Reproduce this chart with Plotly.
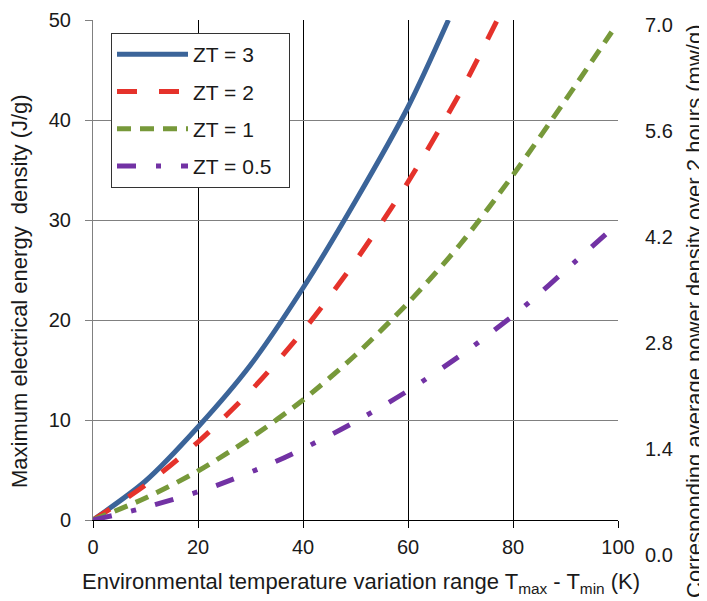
import plotly.graph_objects as go

# ---- data ----
x_zt3 = [0, 10, 20, 30, 40, 50, 60, 67.7]
y_zt3 = [0, 3.9, 9.3, 15.5, 23.2, 31.9, 41.3, 50.0]

x_zt2 = [0, 10, 20, 30, 40, 50, 60, 70, 77]
y_zt2 = [0, 3.5, 7.8, 12.9, 18.9, 25.9, 33.8, 42.8, 50.0]

x_zt1 = [0, 10, 20, 30, 40, 50, 60, 70, 80, 90, 98.8]
y_zt1 = [0, 2.2, 4.9, 8.2, 12.0, 16.5, 21.7, 27.6, 34.5, 42.0, 48.8]

x_zt05 = [0, 8.6, 22, 34.9, 47.3, 59.3, 70.9, 81.8, 92.2, 98.8]
y_zt05 = [0, 1.07, 3.17, 5.87, 9.07, 12.7, 16.8, 21.2, 26.0, 29.1]

series_labels = ["ZT = 3", "ZT = 2", "ZT = 1", "ZT = 0.5"]
x_ticks = [0, 20, 40, 60, 80, 100]
y_ticks = [0, 10, 20, 30, 40, 50]
y2_ticks = [0.0, 1.4, 2.8, 4.2, 5.6, 7.0]

x_title = "Environmental temperature variation range T<sub>max</sub> - T<sub>min</sub> (K)"
y_title = "Maximum electrical energy&nbsp; density (J/g)"
y2_title = "Corresponding average power density over 2 hours (mw/g)"

FONT = "Liberation Sans, Arial, sans-serif"
TXT = "#1a1a1a"

styles = [
    dict(color="#3B6499", width=5, dash="solid"),
    dict(color="#E5322B", width=5, dash="20px,22px"),
    dict(color="#77993A", width=5, dash="14px,9px"),
    dict(color="#7232A4", width=5, dash="19px,20px,5px,20px"),
]

fig = go.Figure()
for i, (xs, ys) in enumerate([(x_zt3, y_zt3), (x_zt2, y_zt2), (x_zt1, y_zt1), (x_zt05, y_zt05)]):
    fig.add_trace(go.Scatter(
        x=xs, y=ys, mode="lines", name=series_labels[i] + "\u00a0\u00a0",
        line=dict(shape="spline", smoothing=0.8, **styles[i]),
        legendgroup=f"g{i}", xaxis="x", yaxis="y",
    ))

# invisible trace to carry the right-hand axis
fig.add_trace(go.Scatter(x=[None], y=[None], xaxis="x2", yaxis="y2",
                         showlegend=False, hoverinfo="skip"))

# page is offset by the 8px body margin
L, R, T, B = 85, 97, 12, 54
W, H = 707, 601
plot_w = W - L - R
plot_h = H - T - B


def px(page_x):
    return (page_x - 8 - L) / plot_w


def py(page_y):
    return (H - B - (page_y - 8)) / plot_h


fig.update_layout(
    width=W, height=H,
    margin=dict(l=L, r=R, t=T, b=B, pad=0),
    template="none",
    paper_bgcolor="white",
    plot_bgcolor="rgba(0,0,0,0)",
    font=dict(family=FONT, size=20, color=TXT),
    xaxis=dict(
        domain=[0, 1], range=[0, 100], anchor="y",
        tickvals=x_ticks, showgrid=True, gridcolor="#000000", gridwidth=1,
        showline=True, linecolor="#000000", linewidth=1,
        ticks="outside", ticklen=7, tickcolor="#000000",
        zeroline=False, automargin=False, ticklabelstandoff=2,
    ),
    yaxis=dict(
        domain=[py(520), 1], range=[0, 50], anchor="x",
        tickvals=y_ticks, showgrid=True, gridcolor="#808080", gridwidth=1,
        showline=True, linecolor="#808080", linewidth=1,
        ticks="outside", ticklen=7, tickcolor="#808080",
        zeroline=False, automargin=False, ticklabelstandoff=10,
    ),
    xaxis2=dict(domain=[0, 1], range=[0, 100], anchor="y2", visible=False),
    yaxis2=dict(
        domain=[0, py(25)], range=[0, 7], anchor="x2", side="right",
        tickvals=y2_ticks, tickformat=".1f", showgrid=False, showline=False,
        ticks="", zeroline=False, automargin=False, ticklabelstandoff=26,
    ),
    legend=dict(
        x=px(111), y=py(33), xanchor="left", yanchor="top",
        bgcolor="white", bordercolor="#333333", borderwidth=1,
        font=dict(size=21, color=TXT), traceorder="grouped", tracegroupgap=7,
        itemwidth=71,
    ),
    showlegend=True,
    annotations=[
        dict(text=x_title, xref="paper", yref="paper", x=px(361), y=py(583),
             xanchor="center", yanchor="middle", showarrow=False,
             font=dict(size=22, color=TXT)),
        dict(text=y_title, xref="paper", yref="paper", x=px(19), y=py(291),
             xanchor="center", yanchor="middle", showarrow=False, textangle=-90,
             font=dict(size=22, color=TXT)),
        dict(text=y2_title, xref="paper", yref="paper", x=px(694), y=py(311),
             xanchor="center", yanchor="middle", showarrow=False, textangle=-90,
             font=dict(size=22, color=TXT)),
    ],
)

fig.write_html("out.html")
